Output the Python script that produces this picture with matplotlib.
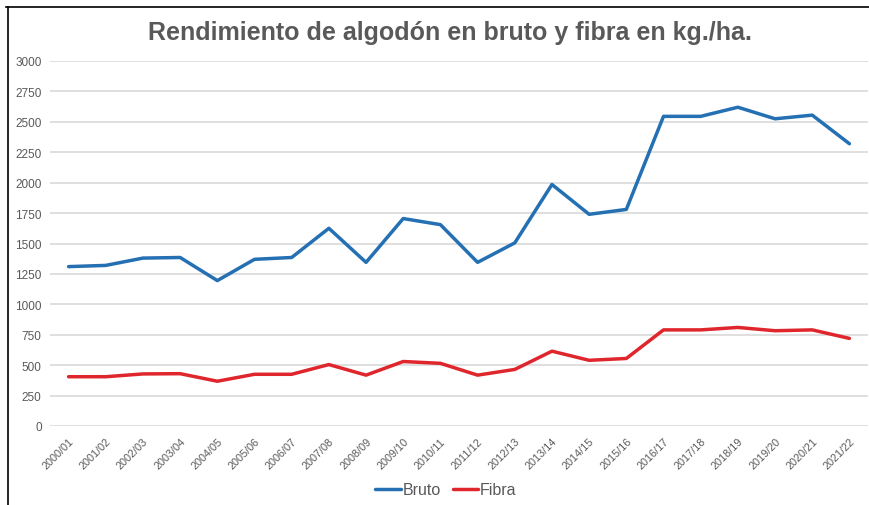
import matplotlib
matplotlib.use("Agg")
import matplotlib.pyplot as plt
from matplotlib.lines import Line2D

campaigns = [
    "2000/01", "2001/02", "2002/03", "2003/04", "2004/05", "2005/06",
    "2006/07", "2007/08", "2008/09", "2009/10", "2010/11", "2011/12",
    "2012/13", "2013/14", "2014/15", "2015/16", "2016/17", "2017/18",
    "2018/19", "2019/20", "2020/21", "2021/22",
]
bruto = [1310, 1320, 1380, 1385, 1195, 1370, 1385, 1625, 1345, 1705,
         1655, 1345, 1505, 1985, 1740, 1780, 2545, 2545, 2620, 2525,
         2555, 2320]
fibra = [405, 405, 428, 430, 368, 425, 425, 505, 418, 530, 515, 418,
         465, 615, 540, 555, 790, 790, 810, 783, 790, 720]
y_ticks = list(range(0, 3001, 250))

plt.rcParams["font.family"] = ["Liberation Sans", "DejaVu Sans"]
text_color = "#595959"

fig = plt.figure(figsize=(8.69, 5.06), dpi=100)
ax = fig.add_axes([50 / 869, 1 - 427 / 506, 818 / 869, 365 / 506])

x = list(range(len(campaigns)))
ax.plot(x, bruto, color="#2470b3", linewidth=2.5, label="Bruto",
        solid_joinstyle="round", solid_capstyle="round")
ax.plot(x, fibra, color="#e0262d", linewidth=2.5, label="Fibra",
        solid_joinstyle="round", solid_capstyle="round")

ax.set_xlim(-0.5, len(campaigns) - 0.5)
ax.set_ylim(0, 3000)
ax.set_yticks(y_ticks)
ax.set_xticks(x, campaigns, rotation=45, ha="right", rotation_mode="anchor")
ax.tick_params(axis="both", length=0, colors=text_color)
ax.tick_params(axis="y", pad=6, labelsize=8.5)
ax.tick_params(axis="x", pad=7, labelsize=7.8)
ax.grid(axis="y", color="#d9d9d9", linewidth=1.2)
ax.set_axisbelow(True)
for spine in ax.spines.values():
    spine.set_visible(False)

fig.text(0.518, 1 - 33 / 506, "Rendimiento de algodón en bruto y fibra en kg./ha.",
         ha="center", va="center", fontsize=18, fontweight="bold", color=text_color)

fig.legend(loc="center", bbox_to_anchor=(446 / 869, 1 - 491 / 506), ncol=2,
           frameon=False, fontsize=11.5, handlelength=1.6, handletextpad=0.1,
           columnspacing=0.75, labelcolor=text_color)

# frame border visible at left and top of the crop
fig.add_artist(Line2D([8 / 869, 8 / 869], [0, 1 - 8 / 506], color="black", linewidth=1.2))
fig.add_artist(Line2D([6 / 869, 1], [1 - 8 / 506, 1 - 8 / 506], color="black", linewidth=1.2))

fig.savefig("out.png", dpi=100)
